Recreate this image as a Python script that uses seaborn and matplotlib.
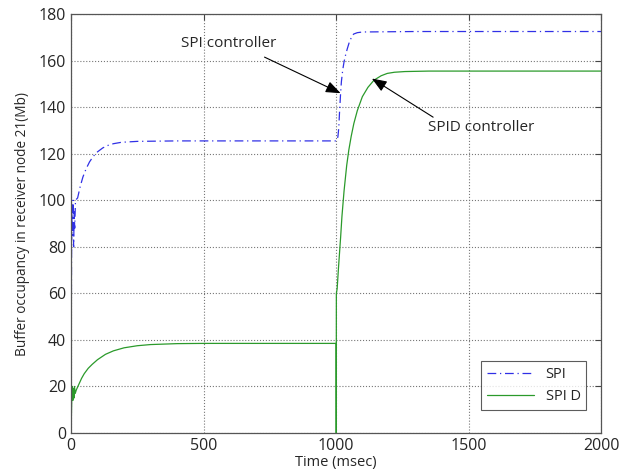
import numpy as np
import pandas as pd
import seaborn as sns
import matplotlib
matplotlib.use('Agg')
import matplotlib.pyplot as plt

sns.set_style('white')
plt.rcParams['font.family'] = ['Open Sans', 'DejaVu Sans']

# SPI controller response (time in msec, buffer in Mb)
spi_t = [0, 2, 4, 6, 8, 10, 12, 14, 17, 25, 30, 35, 45, 57, 70, 85, 100, 120,
         140, 160, 190, 250, 400, 1000, 1004, 1007, 1010, 1013, 1017, 1020, 1025,
         1030, 1036, 1042, 1050, 1058, 1066, 1080, 1100, 1300, 2000]
spi_v = [0, 75, 98, 85, 100, 80, 95, 88, 100, 101, 103.5, 106, 110, 113.5, 116.5,
         119, 120.8, 122.5, 123.6, 124.3, 124.9, 125.3, 125.5, 125.5, 126, 127.5,
         131, 138, 146, 151, 156, 159.5, 162.5, 165, 168, 170, 171.4, 172, 172.3,
         172.5, 172.5]

# SPID controller response
spid_t = [0, 3, 5, 7, 9, 11, 13, 16, 20, 30, 40, 50, 65, 80, 100, 130, 160, 200,
          250, 300, 400, 500, 1000, 1000.5, 1001, 1004, 1009, 1013, 1017, 1022,
          1030, 1040, 1048, 1057, 1067, 1080, 1099, 1120, 1143, 1170, 1193, 1220,
          1260, 1350, 2000]
spid_v = [0, 15, 20, 14, 19, 15, 20, 17, 18.5, 21, 23.5, 25.5, 27.8, 29.5, 31.5,
          33.8, 35.3, 36.6, 37.5, 38, 38.4, 38.5, 38.5, 0, 60, 62, 71, 77.5, 84,
          93, 104, 115, 121.6, 127.5, 133, 138.5, 144.5, 148.5, 151.6, 153.5,
          154.5, 155, 155.3, 155.5, 155.5]

fig = plt.figure(figsize=(6.26, 4.75), dpi=100)
ax = fig.add_axes([0.1134, 0.0884, 0.847, 0.882])

sns.lineplot(x=spi_t, y=spi_v, ax=ax, color='#3030e6', linestyle=(0, (7, 3, 1, 3)),
             linewidth=0.9, estimator=None, sort=False, label='SPI')
sns.lineplot(x=spid_t, y=spid_v, ax=ax, color='#2b9a2b', linewidth=0.9,
             estimator=None, sort=False, label='SPI D')

ax.set_xlim(0, 2000)
ax.set_ylim(0, 180)
ax.set_xticks(np.arange(0, 2001, 500))
ax.set_yticks(np.arange(0, 181, 20))
ax.grid(True, linestyle=':', color='#777777', linewidth=0.8)
ax.tick_params(direction='in', top=True, right=True, labelsize=11.5,
               length=4, color='#444444')
for s in ax.spines.values():
    s.set_color('#555555')
    s.set_linewidth(0.9)

ax.set_xlabel('Time (msec)', fontsize=10.5, labelpad=1)
ax.set_ylabel('Buffer occupancy in receiver node 21(Mb)', fontsize=9.8, labelpad=6)

arrow = dict(arrowstyle='-|>,head_length=0.9,head_width=0.35', color='black',
             lw=0.8, shrinkA=0, shrinkB=0)
ax.text(596, 167.5, 'SPI controller', fontsize=11, ha='center', va='center')
ax.annotate('', xy=(1017, 146), xytext=(730, 161.5), arrowprops=arrow)
ax.text(1547, 131.4, 'SPID controller', fontsize=11, ha='center', va='center')
ax.annotate('', xy=(1135, 152.3), xytext=(1366, 135.7), arrowprops=arrow)

leg = ax.legend(loc='lower right', fontsize=10.5, frameon=True, fancybox=False,
                handlelength=3.2, bbox_to_anchor=(0.972, 0.055), borderaxespad=0)
leg.get_frame().set_edgecolor('#333333')
leg.get_frame().set_linewidth(0.8)

fig.savefig('out.png', dpi=100)
